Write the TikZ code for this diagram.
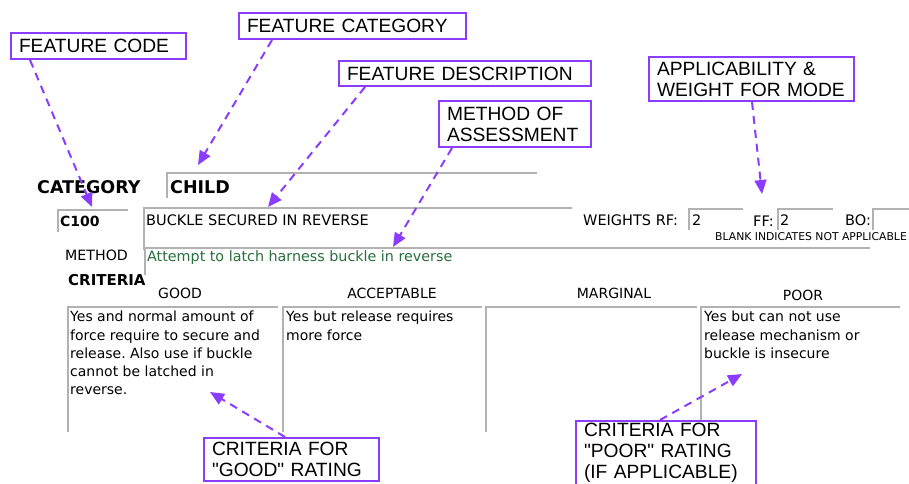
\documentclass[tikz,border=0pt]{standalone}
\usepackage{fontspec}
\usetikzlibrary{arrows.meta}
\setmainfont{Liberation Sans}
\newfontfamily\formfont{DejaVu Sans}
\definecolor{callpurple}{RGB}{139,61,255}
\definecolor{methgreen}{RGB}{40,110,60}
\frenchspacing

\begin{document}
\begin{tikzpicture}[x=1pt,y=-1pt,
  callout/.style={draw=callpurple,line width=2pt,align=left,anchor=north west,
    inner xsep=8pt,inner ysep=1pt,font=\fontsize{19.2}{21}\selectfont},
  callarrow/.style={callpurple,line width=2pt,dash pattern=on 8pt off 6pt,
    -{Triangle[length=14pt,width=12pt]}},
  field/.style={draw=gray!60,line width=1.3pt},
  formtxt/.style={anchor=west,inner sep=0pt,font=\formfont\fontsize{14.5}{17}\selectfont},
  boldtxt/.style={anchor=west,inner sep=0pt,font=\formfont\bfseries\fontsize{17.5}{20}\selectfont},
  boxtxt/.style={anchor=north west,inner sep=0pt,align=left,font=\formfont\fontsize{14}{18.2}\selectfont}]
  \useasboundingbox (0,0) rectangle (909,483);
  % callout boxes
  \node[callout,text width=159pt,minimum height=26pt] (fcode) at (10,32) {FEATURE CODE};
  \node[callout,text width=211pt,minimum height=26pt] (fcat) at (238,12) {FEATURE CATEGORY};
  \node[callout,text width=236pt,minimum height=25pt] (fdesc) at (338,60) {FEATURE DESCRIPTION};
  \node[callout,text width=136pt,minimum height=46pt] (method) at (438,100) {METHOD OF\\ASSESSMENT};
  \node[callout,text width=189pt,minimum height=44pt] (applic) at (648,56) {APPLICABILITY \&\\WEIGHT FOR MODE};
  \node[callout,text width=159pt,minimum height=43pt] (cgood) at (203,437) {CRITERIA FOR\\\textquotedbl GOOD\textquotedbl\ RATING};
  \node[callout,text width=164pt,minimum height=64pt] (cpoor) at (575,420) {CRITERIA FOR\\\textquotedbl POOR\textquotedbl\ RATING\\(IF APPLICABLE)};
  % form fields
  \draw[field] (167,198) -- (167,173) -- (537,173);
  \draw[field] (58,232) -- (58,210) -- (128,210);
  \draw[field] (144,250) -- (144,208) -- (572,208);
  \draw[field] (145,275) -- (145,248) -- (870,248);
  \draw[field] (689,230) -- (689,209) -- (743,209);
  \draw[field] (778,230) -- (778,209) -- (833,209);
  \draw[field] (873,230) -- (873,209) -- (909,209);
  \draw[field] (68,432) -- (68,307) -- (278,307);
  \draw[field] (283,432) -- (283,307) -- (482,307);
  \draw[field] (486,432) -- (486,307) -- (697,307);
  \draw[field] (701,420) -- (701,307) -- (900,307);
  % form texts
  \node[boldtxt] (cattitle) at (37,187) {CATEGORY};
  \node[boldtxt] (catval) at (170,187) {CHILD};
  \node[boldtxt,font=\formfont\bfseries\fontsize{14}{16}\selectfont] (code) at (60,221) {C100};
  \node[formtxt] (desc) at (146,220) {BUCKLE SECURED IN REVERSE};
  \node[formtxt] (wrf) at (583,220) {WEIGHTS RF:};
  \node[formtxt] (vrf) at (692,220) {2};
  \node[formtxt] (wff) at (753,221) {FF:};
  \node[formtxt] (vff) at (780,220) {2};
  \node[formtxt] (wbo) at (845,220) {BO:};
  \node[formtxt,font=\formfont\fontsize{10.8}{12}\selectfont] (blank) at (715,237) {BLANK INDICATES NOT APPLICABLE};
  \node[formtxt,font=\formfont\fontsize{14.2}{16}\selectfont] (meth) at (65,255) {METHOD};
  \node[formtxt,text=methgreen,font=\formfont\fontsize{14.3}{16}\selectfont] (methval) at (147,258) {Attempt to latch harness buckle in reverse};
  \node[boldtxt,font=\formfont\bfseries\fontsize{15}{18}\selectfont] (crit) at (68,280) {CRITERIA};
  \node[formtxt,anchor=center,font=\formfont\fontsize{14}{16}\selectfont] (hgood) at (180,293) {GOOD};
  \node[formtxt,anchor=center,font=\formfont\fontsize{14}{16}\selectfont] (hacc) at (392,293) {ACCEPTABLE};
  \node[formtxt,anchor=center,font=\formfont\fontsize{14}{16}\selectfont] (hmarg) at (614,293) {MARGINAL};
  \node[formtxt,anchor=center,font=\formfont\fontsize{14}{16}\selectfont] (hpoor) at (803,295) {POOR};
  \node[boxtxt] (tgood) at (70,311) {Yes and normal amount of\\force require to secure and\\release. Also use if buckle\\cannot be latched in\\reverse.};
  \node[boxtxt] (tacc) at (286,311) {Yes but release requires\\more force};
  \node[boxtxt] (tpoor) at (704,311) {Yes but can not use\\release mechanism or\\buckle is insecure};
  % arrows
  \coordinate (codetip) at (92,207);
  \coordinate (cattip) at (198,165);
  \coordinate (desctip) at (268,207);
  \coordinate (methtip) at (393,247);
  \coordinate (applictip) at (762,194);
  \coordinate (goodtip) at (210,392);
  \coordinate (poortip) at (742,374);
  \draw[callarrow] ([xshift=20pt]fcode.south west) -- (codetip);
  \draw[callarrow] ([xshift=34pt]fcat.south west) -- (cattip);
  \draw[callarrow] ([xshift=27pt]fdesc.south west) -- (desctip);
  \draw[callarrow] ([xshift=14pt]method.south west) -- (methtip);
  \draw[callarrow] ([xshift=104pt]applic.south west) -- (applictip);
  \draw[callarrow] ([xshift=82pt]cgood.north west) -- (goodtip);
  \draw[callarrow] ([xshift=85pt]cpoor.north west) -- (poortip);
\end{tikzpicture}
\end{document}
